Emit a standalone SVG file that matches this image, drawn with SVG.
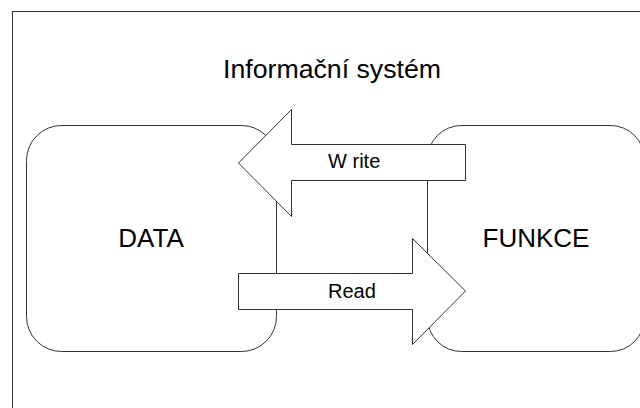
<svg xmlns="http://www.w3.org/2000/svg" width="640" height="408" viewBox="0 0 640 408">
<style>
.shape{fill:#fff;stroke:#333;stroke-width:1}
text{font-family:"Liberation Sans",Arial,sans-serif;fill:#000}
.big{font-size:26px}
.lbl{font-size:20px}
</style>
<rect x="0" y="0" width="640" height="408" fill="#fff"/>
<rect id="frame" class="shape" x="12.5" y="11.5" width="660" height="420"/>
<text x="223" y="78" class="big" style="font-size:26.7px">Informační systém</text>
<g id="data">
<rect class="shape" x="26.5" y="125.5" width="250" height="226" rx="35" ry="35"/>
<text x="151" y="246.7" class="big" text-anchor="middle">DATA</text>
</g>
<g id="funkce">
<rect class="shape" x="427.5" y="125.5" width="217" height="226" rx="34" ry="34"/>
<text x="536" y="246.7" class="big" text-anchor="middle">FUNKCE</text>
</g>
<g id="connectors">
<g id="write">
<path class="shape" d="M238.5,163 L291.5,109.5 L291.5,144.5 L465.5,144.5 L465.5,180.5 L291.5,180.5 L291.5,216.5 Z"/>
<text x="328" y="168.3" class="lbl">W<tspan x="352.5">rite</tspan></text>
</g>
<g id="read">
<path class="shape" d="M238.5,273.5 L412.5,273.5 L412.5,238.5 L465.5,291 L412.5,344.5 L412.5,309.5 L238.5,309.5 Z"/>
<text x="328" y="298.3" class="lbl">Read</text>
</g>
</g>
</svg>
